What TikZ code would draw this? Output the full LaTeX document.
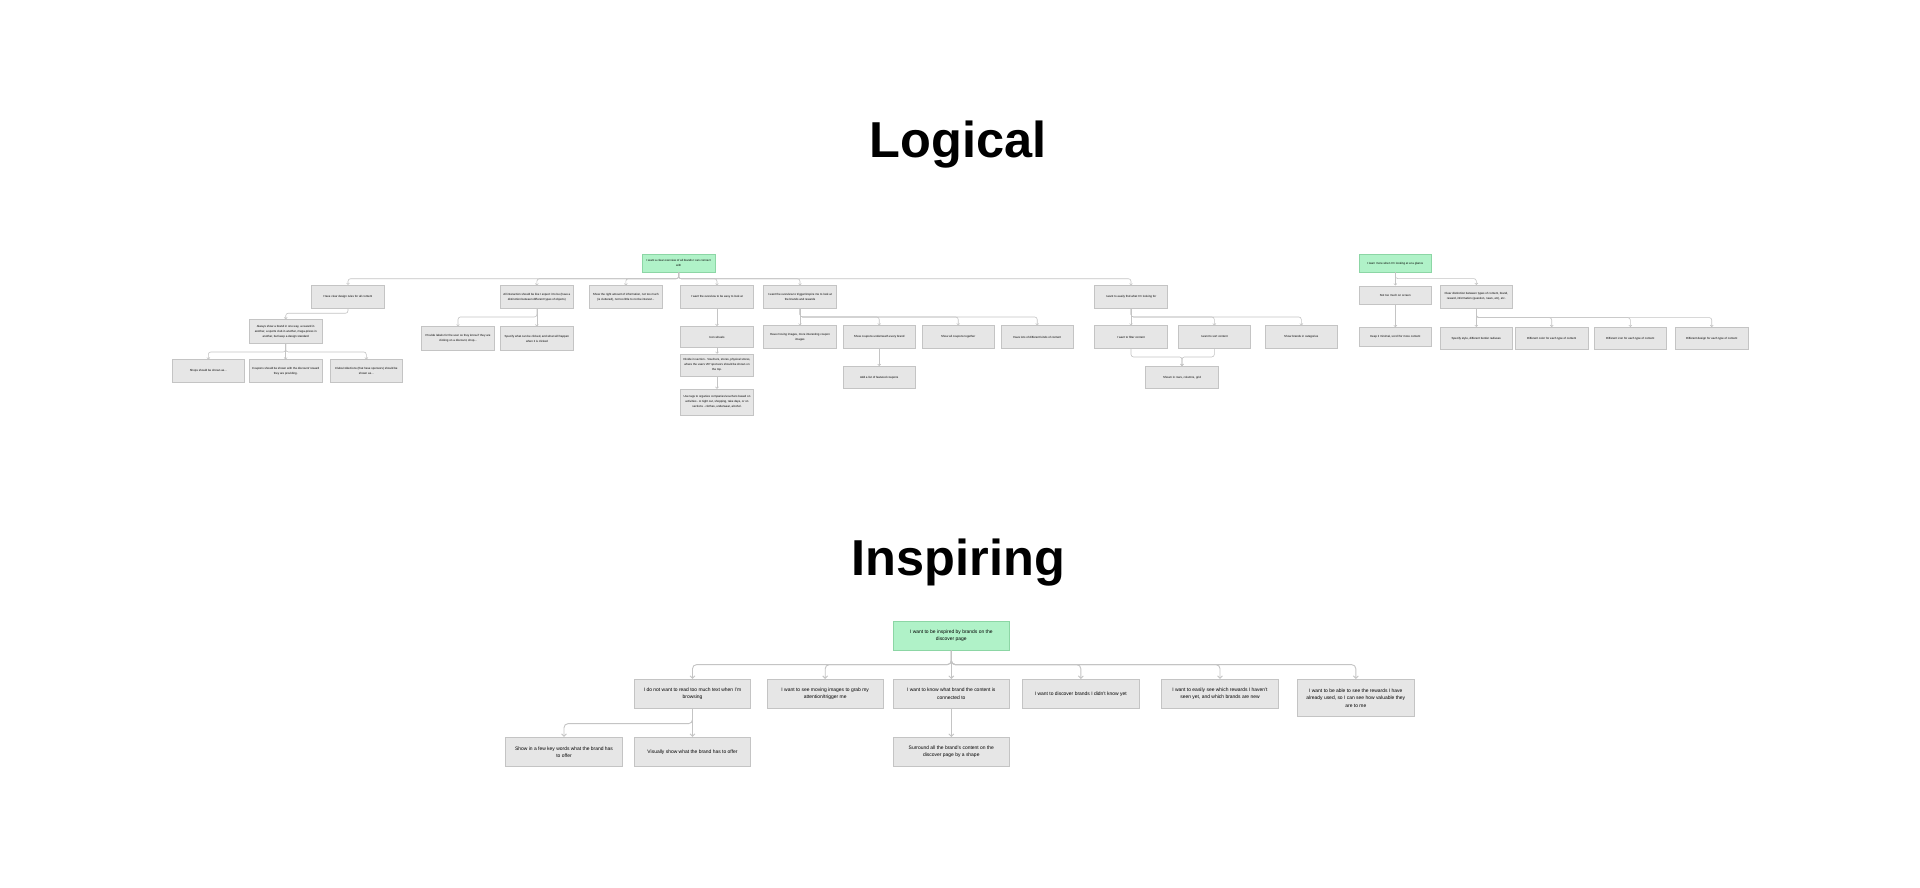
\documentclass[tikz,border=0pt]{standalone}
\usepackage{fontspec}
\setmainfont{Liberation Sans}
\usetikzlibrary{arrows.meta}
\hyphenpenalty=10000
\exhyphenpenalty=10000
\definecolor{boxfill}{RGB}{230,230,230}
\definecolor{boxline}{RGB}{196,196,196}
\definecolor{grfill}{RGB}{176,242,200}
\definecolor{grline}{RGB}{140,214,165}
\definecolor{conncol}{RGB}{196,196,196}
\tikzset{
  lbox/.style={draw=boxline, fill=boxfill, line width=0.5pt, minimum width=72.7pt, minimum height=22.6pt,
    text width=67pt, align=flush center, inner sep=0pt, font=\fontsize{2.9}{5}\selectfont},
  lroot/.style={lbox, draw=grline, fill=grfill, minimum height=17.5pt},
  ibox/.style={draw=boxline, fill=boxfill, line width=0.7pt, minimum width=116.4pt, minimum height=29pt,
    text width=101pt, align=flush center, inner sep=0pt, font=\fontsize{4.95}{7.3}\selectfont},
  iroot/.style={ibox, draw=grline, fill=grfill, minimum height=28.6pt},
  lconn/.style={draw=conncol, line width=0.6pt, rounded corners=2.5pt, -{Straight Barb[length=1.5pt,width=3pt]}},
  iconn/.style={draw=conncol, line width=0.9pt, rounded corners=4pt, -{Straight Barb[length=2.5pt,width=5pt]}},
  ttl/.style={anchor=base, inner sep=0pt, font=\fontsize{50.5}{56}\selectfont\bfseries}
}
\begin{document}
\begin{tikzpicture}[x=1pt,y=-1pt]
\fill[white] (0,0) rectangle (1920,887);
\useasboundingbox (0,0) rectangle (1920,887);

% ---------- Titles ----------
\node[ttl] (tLogical) at (958,157.3) {Logical};
\node[ttl] (tInspiring) at (958.5,575.5) {Inspiring};

% ---------- Logical tree 1 ----------
\node[lroot] (r) at (678.7,263) {I want a clear overview of all brands I can connect with};
\node[lbox] (a) at (348,296.5) {Have clear design rules for all content};
\node[lbox, minimum height=23.5pt] (a1) at (285.7,331.3) {Always show a brand in one way, a reward in another, a sports club in another, mega-prizes in another, but keep a design standard};
\node[lbox] (a1a) at (208.3,371) {Shops should be shown as...};
\node[lbox] (a1b) at (285.7,371) {Coupons should be shown with the discount/ reward they are providing.};
\node[lbox] (a1c) at (366.3,371) {Clubs/collections (that have sponsors) should be shown as...};
\node[lbox] (b) at (536.9,297) {All interaction should be like I expect it to be (have a distinction between different types of objects)};
\node[lbox, minimum height=23.6pt] (b1) at (458,338.5) {Provide labels for the user so they know if they are clicking on a discount, shop...};
\node[lbox, minimum height=23.6pt] (b2) at (536.9,338.5) {Specify what can be clicked, and what will happen when it is clicked};
\node[lbox] (c) at (625.8,297) {Show the right amount of information, not too much (is cluttered), not too little to not be interest...};
\node[lbox] (d) at (717,297) {I want the overview to be easy to look at};
\node[lbox, minimum height=21.4pt] (d1) at (717,337) {Icon wheels};
\node[lbox, minimum height=22pt] (d2) at (717,365) {Divide in section - Vouchers, stores, physical stores, where the users VIP sponsors should be shown on the top.};
\node[lbox, minimum height=26pt] (d3) at (717,402) {Use tags to organize companies/vouchers based on activities - A night out, shopping, take days, or on sections - clothes, underwear, alcohol.};
\node[lbox] (e) at (800,297) {I want the overview to trigger/inspire me to look at the brands and rewards};
\node[lbox] (e1) at (800,337) {Have moving images, more interesting coupon images};
\node[lbox] (e2) at (879.2,337) {Show coupons underneath every brand};
\node[lbox] (e3) at (958.2,337) {Show all coupons together};
\node[lbox] (e4) at (1037.2,337) {Have lots of different kinds of content};
\node[lbox, minimum height=22.4pt] (e2a) at (879.2,377.5) {Add a list of featured coupons};
\node[lbox] (f) at (1131,297) {I want to easily find what I'm looking for};
\node[lbox] (f1) at (1131,337) {I want to filter content};
\node[lbox] (f2) at (1214.3,337) {I want to sort content};
\node[lbox] (f3) at (1301.3,337) {Show brands in categories};
\node[lbox, minimum height=22.4pt] (f12) at (1182,377.5) {Shown in rows, columns, grid};

\draw[lconn] (r.south) -- ++(0,6.75) -| (a.north);
\draw[lconn] (r.south) -- ++(0,6.75) -| (b.north);
\draw[lconn] (r.south) -- ++(0,6.75) -| (c.north);
\draw[lconn] (r.south) -- ++(0,6.75) -| (d.north);
\draw[lconn] (r.south) -- ++(0,6.75) -| (e.north);
\draw[lconn] (r.south) -- ++(0,6.75) -| (f.north);
\draw[lconn] (a.south) -- ++(0,5.2) -| (a1.north);
\draw[lconn] (a1.south) -- ++(0,8.65) -| (a1a.north);
\draw[lconn] (a1.south) -- (a1b.north);
\draw[lconn] (a1.south) -- ++(0,8.65) -| (a1c.north);
\draw[lconn] (b.south) -- ++(0,8.4) -| (b1.north);
\draw[lconn] (b.south) -- (b2.north);
\draw[lconn] (d.south) -- (d1.north);
\draw[lconn] (d1.south) -- (d2.north);
\draw[lconn] (d2.south) -- (d3.north);
\draw[lconn] (e.south) -- (e1.north);
\draw[lconn] (e.south) -- ++(0,8.4) -| (e2.north);
\draw[lconn] (e.south) -- ++(0,8.4) -| (e3.north);
\draw[lconn] (e.south) -- ++(0,8.4) -| (e4.north);
\draw[lconn] (e2.south) -- (e2a.north);
\draw[lconn] (f.south) -- (f1.north);
\draw[lconn] (f.south) -- ++(0,8.4) -| (f2.north);
\draw[lconn] (f.south) -- ++(0,8.4) -| (f3.north);
\draw[lconn] (f1.south) -- ++(0,8.4) -| (f12.north);
\draw[lconn] (f2.south) -- ++(0,8.4) -| (f12.north);

% ---------- Logical tree 2 ----------
\node[lroot] (s) at (1395.3,263.3) {I learn more when I'm looking at at a glance};
\node[lbox, minimum height=18.5pt] (g1) at (1395.3,295) {Not too much on screen};
\node[lbox] (g2) at (1476.3,296.5) {Clear distinction between types of content, brand, reward, information (question, news, etc), etc.};
\node[lbox, minimum height=18.5pt] (g1a) at (1395.3,336.7) {Keep it minimal, scroll for more content};
\node[lbox, minimum height=22pt] (g3) at (1476.3,338.3) {Specify style, different border radiuses};
\node[lbox, minimum height=22pt] (g4) at (1551.7,338.3) {Different color for each type of content};
\node[lbox, minimum height=22pt] (g5) at (1630.3,338.3) {Different icon for each type of content};
\node[lbox, minimum height=22pt] (g6) at (1711.7,338.3) {Different design for each type of content};

\draw[lconn] (s.south) -- (g1.north);
\draw[lconn] (s.south) -- ++(0,6.25) -| (g2.north);
\draw[lconn] (g1.south) -- (g1a.north);
\draw[lconn] (g2.south) -- (g3.north);
\draw[lconn] (g2.south) -- ++(0,9.5) -| (g4.north);
\draw[lconn] (g2.south) -- ++(0,9.5) -| (g5.north);
\draw[lconn] (g2.south) -- ++(0,9.5) -| (g6.north);

% ---------- Inspiring tree ----------
\node[iroot] (i0) at (951.3,636) {I want to be inspired by brands on the discover page};
\node[ibox] (i1) at (692.5,693.8) {I do not want to read too much text when I'm browsing};
\node[ibox] (i2) at (825.2,693.8) {I want to see moving images to grab my attention/trigger me};
\node[ibox] (i3) at (951.3,693.8) {I want to know what brand the content is connected to};
\node[ibox] (i4) at (1080.8,693.8) {I want to discover brands I didn't know yet};
\node[ibox] (i5) at (1220,693.8) {I want to easily see which rewards I haven't seen yet, and which brands are new};
\node[ibox, minimum height=37.4pt] (i6) at (1355.8,698) {I want to be able to see the rewards I have already used, so I can see how valuable they are to me};
\node[ibox, minimum height=29.4pt] (i1a) at (564,752) {Show in a few key words what the brand has to offer};
\node[ibox, minimum height=29.4pt] (i1b) at (692.5,752) {Visually show what the brand has to offer};
\node[ibox, minimum height=29.4pt] (i3a) at (951.3,752) {Surround all the brand's content on the discover page by a shape};

\draw[iconn] (i0.south) -- ++(0,14) -| (i1.north);
\draw[iconn] (i0.south) -- ++(0,14) -| (i2.north);
\draw[iconn] (i0.south) -- (i3.north);
\draw[iconn] (i0.south) -- ++(0,14) -| (i4.north);
\draw[iconn] (i0.south) -- ++(0,14) -| (i5.north);
\draw[iconn] (i0.south) -- ++(0,14) -| (i6.north);
\draw[iconn] (i1.south) -- ++(0,15) -| (i1a.north);
\draw[iconn] (i1.south) -- (i1b.north);
\draw[iconn] (i3.south) -- (i3a.north);
\end{tikzpicture}
\end{document}
